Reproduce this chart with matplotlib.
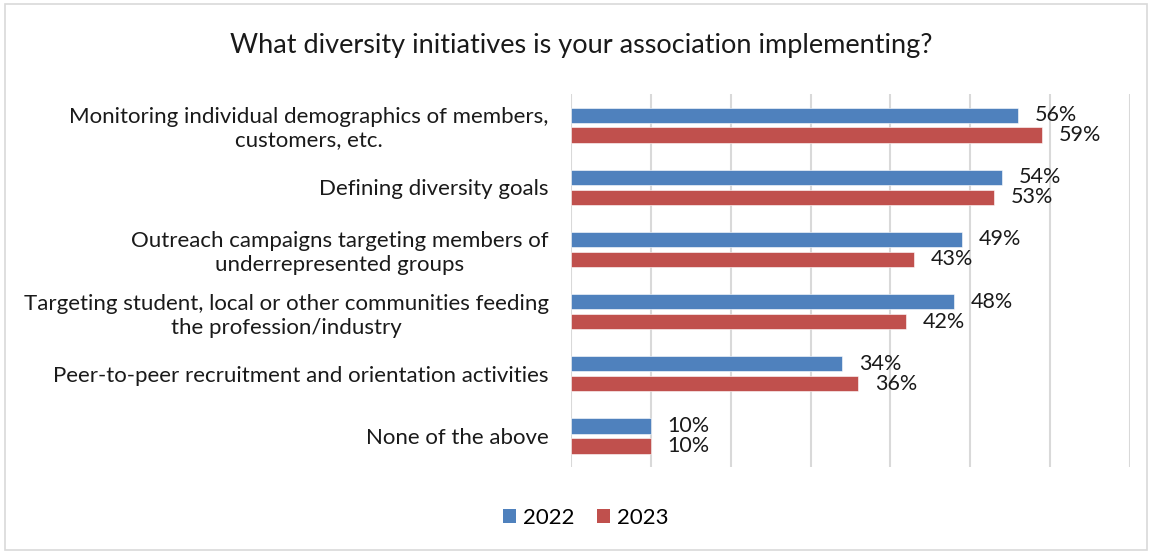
import matplotlib
matplotlib.use("Agg")
import matplotlib.pyplot as plt
from matplotlib.patches import Rectangle, Patch

plt.rcParams['font.family'] = ['Lato', 'DejaVu Sans']

title = "What diversity initiatives is your association implementing?"
categories = [
    "Monitoring individual demographics of members,\ncustomers, etc.",
    "Defining diversity goals",
    "Outreach campaigns targeting members of\nunderrepresented groups",
    "Targeting student, local or other communities feeding\nthe profession/industry",
    "Peer-to-peer recruitment and orientation activities",
    "None of the above",
]
values_2022 = [56, 54, 49, 48, 34, 10]
values_2023 = [59, 53, 43, 42, 36, 10]
series_names = ["2022", "2023"]
colors = ["#4F81BD", "#C0504D"]

fig = plt.figure(figsize=(11.53, 5.54), dpi=100)
ax = fig.add_axes([0.4952, 0.157, 0.4848, 0.6733])

# light frame around the whole chart
fig.patches.append(Rectangle((0.004, 0.008), 0.991, 0.984, transform=fig.transFigure,
                             fill=False, edgecolor="#D9D9D9", linewidth=1.2))

n = len(categories)
pos = list(range(n))
h = 0.245
off = 0.16
for vals, sign, col in [(values_2022, -1, colors[0]), (values_2023, 1, colors[1])]:
    ys = [p + sign * off for p in pos]
    ax.barh(ys, vals, height=h, color=col, edgecolor="white", linewidth=0.4, zorder=3)
    for y, v in zip(ys, vals):
        ax.annotate(f"{v}%", xy=(v, y), xytext=(12, 0), textcoords="offset points",
                    va="center", ha="left", fontsize=15.5, color="#1a1a1a")

ax.set_xlim(0, 70)
ax.set_ylim(n - 0.5, -0.5)
ax.set_xticks(range(0, 71, 10))
ax.set_xticklabels([])
ax.grid(axis="x", color="#D9D9D9", linewidth=1.5, zorder=0)
ax.set_yticks(pos)
ax.set_yticklabels(categories, fontsize=16, color="#1a1a1a", multialignment="center",
                   linespacing=1.25)
ax.tick_params(axis="both", length=0, pad=16)
for s in ax.spines.values():
    s.set_visible(False)

fig.text(0.504, 0.918, title, ha="center", va="center", fontsize=19.5, color="#1a1a1a")

handles = [Patch(facecolor=c, edgecolor="none") for c in colors]
fig.legend(handles, series_names, loc="center", bbox_to_anchor=(0.508, 0.065), ncol=2,
           frameon=False, fontsize=16, handlelength=0.6, handleheight=0.6,
           handletextpad=0.3, columnspacing=1.0)

fig.savefig("out.png", dpi=100)
